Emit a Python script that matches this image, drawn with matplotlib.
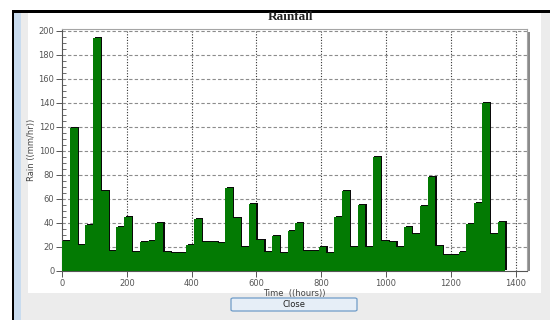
import numpy as np
import matplotlib
matplotlib.use("Agg")
import matplotlib.pyplot as plt
from matplotlib.patches import Rectangle, FancyBboxPatch
from matplotlib.ticker import MultipleLocator
import matplotlib.transforms as mtransforms

# Daily rainfall intensity (24 hour steps)
step_hours = 24
rain = [25, 119, 22, 38, 194, 67, 17, 37, 45, 16, 24, 25, 40, 16, 15, 15,
        22, 43, 24, 24, 23, 69, 44, 20, 56, 26, 16, 29, 15, 33, 40, 17,
        17, 20, 15, 45, 67, 20, 55, 20, 95, 25, 24, 20, 37, 31, 54, 78,
        21, 13, 13, 16, 39, 57, 140, 31, 41]
x_ticks = [0, 200, 400, 600, 800, 1000, 1200, 1400]
y_ticks = [0, 20, 40, 60, 80, 100, 120, 140, 160, 180, 200]

W, H = 550, 320
fig = plt.figure(figsize=(W / 100, H / 100), dpi=100)
fig.patch.set_facecolor("white")


def px_rect(x0, y0, x1, y1, **kw):
    # rectangle in pixel coords measured from top-left
    r = Rectangle((x0 / W, 1 - y1 / H), (x1 - x0) / W, (y1 - y0) / H,
                  transform=fig.transFigure, **kw)
    fig.patches.append(r)
    return r


# window chrome
px_rect(14, 12, W, H, facecolor="#ececec", edgecolor="none")
px_rect(14, 12, 21, H, facecolor="#c9dcef", edgecolor="none")
px_rect(28, 12, 541, 293, facecolor="white", edgecolor="none")
px_rect(12, 10, W, 12.5, facecolor="black", edgecolor="none")
px_rect(11.5, 10, 14, H, facecolor="black", edgecolor="none")

# plot area (pixels)
left, right, top, bottom = 62, 527, 28.5, 271
ax = fig.add_axes([left / W, 1 - bottom / H, (right - left) / W, (bottom - top) / H])
ax.set_zorder(2)

# frame shadow
px_rect(left + 3, top + 3, right + 3, bottom, facecolor="#8a8a8a", edgecolor="none",
        zorder=1)

edges = np.arange(len(rain) + 1) * step_hours
shadow = mtransforms.offset_copy(ax.transData, fig=fig, x=1.4, y=1.0, units="dots")
ax.stairs(rain, edges, fill=True, color="#0a0a0a", transform=shadow, zorder=2)
ax.stairs(rain, edges, fill=True, color="#037a03", zorder=3)

ax.set_xlim(0, 1435)
ax.set_ylim(0, 202)
ax.set_xticks(x_ticks)
ax.set_yticks(y_ticks)
ax.yaxis.set_minor_locator(MultipleLocator(5))

for xt in x_ticks[1:]:
    ax.axvline(xt, color="#333333", lw=0.8, ls=(0, (1, 1.5)), zorder=1)
for yt in y_ticks[1:]:
    ax.axhline(yt, color="#8c8c8c", lw=0.8, ls=(0, (3, 2)), zorder=1)

for s in ax.spines.values():
    s.set_color("#a5a5a5")
    s.set_linewidth(0.8)
ax.spines["left"].set_color("#555555")
ax.spines["bottom"].set_color("#555555")

ax.tick_params(axis="both", which="major", labelsize=6, labelcolor="#555555",
               color="#555555", length=4, width=0.7, pad=1.5)
ax.tick_params(axis="y", which="minor", direction="in", length=3, width=0.6,
               color="#555555")

ax.set_xlabel("Time  ((hours))", fontsize=6, color="#444444", labelpad=1)
ax.set_ylabel("Rain ((mm/hr))", fontsize=6, color="#444444", labelpad=2)

fig.text(290 / W, 1 - 17.5 / H, "Rainfall", family="Liberation Serif",
         fontsize=9.5, fontweight="bold", color="#222222", ha="center", va="center")

# close button
btn = FancyBboxPatch((231 / W, 1 - 311 / H), 126 / W, 13 / H,
                     boxstyle="round,pad=0,rounding_size=0.004",
                     transform=fig.transFigure, facecolor="#e6eef7",
                     edgecolor="#6f9cc8", linewidth=0.9)
fig.patches.append(btn)
fig.text(294 / W, 1 - 304.5 / H, "Close", fontsize=6, color="#222222",
         ha="center", va="center")

fig.savefig("out.png", dpi=100)
